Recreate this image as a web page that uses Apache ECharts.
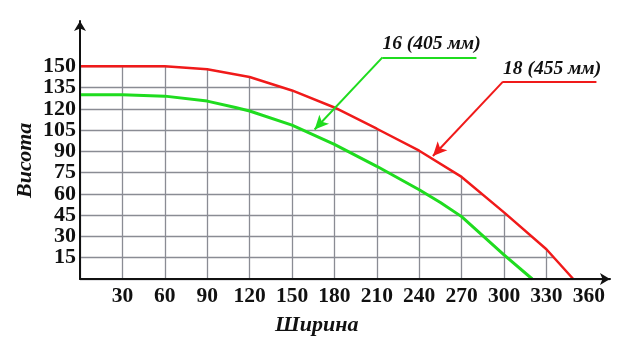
<!DOCTYPE html>
<html>
<head>
<meta charset="utf-8">
<script src="https://cdn.jsdelivr.net/npm/echarts@6/dist/echarts.min.js"></script>
<style>
  html, body { margin: 0; padding: 0; background: #fff; }
  #chart { width: 640px; height: 353px; }
</style>
</head>
<body>
<div id="chart"></div>
<script>
  // дані кривих (ширина, висота)
  var red18 = [[0, 150], [30, 150], [60, 150], [90, 148], [120, 142.5], [150, 133], [180, 121],
    [210, 106], [240, 90.5], [270, 72], [300, 47], [330, 21], [349, 0]]
  var green16 = [[0, 130], [30, 130], [60, 129], [90, 125.5], [110, 121], [120, 118.5], [150, 108.5],
    [180, 95], [210, 79.5], [240, 63], [255, 54], [270, 44], [300, 17], [320, 0]]
  var xTicks = [30, 60, 90, 120, 150, 180, 210, 240, 270, 300, 330, 360]
  var yTicks = [15, 30, 45, 60, 75, 90, 105, 120, 135, 150]
  // підписи-стрілки: [вістря, злам, кінець полиці]
  var note16 = { text: '16 (405 мм)', tip: [166, 105.5], elbow: [214, 156.3], end: [280.5, 156.3] }
  var note18 = { text: '18 (455 мм)', tip: [249.7, 86.8], elbow: [299.3, 139.2], end: [365.4, 139.2] }

  var xMax = 375
  var yMax = 182
  var serif = 'Liberation Serif'

  var myChart = echarts.init(document.getElementById('chart'))

  function noteLine(n, color) {
    return {
      silent: true,
      symbolSize: [10, 14],
      lineStyle: { color: color, width: 2, type: 'solid' },
      data: [
        [{ coord: n.elbow, symbol: 'none' }, { coord: n.tip, symbol: 'arrow', label: { show: false } }],
        [{ coord: n.elbow, symbol: 'none' }, {
          coord: n.end, symbol: 'none',
          label: {
            show: true,
            position: 'insideStartTop',
            distance: [0, 3],
            formatter: n.text,
            color: '#111',
            fontFamily: serif,
            fontStyle: 'italic',
            fontWeight: 'bold',
            fontSize: 19.5
          }
        }]
      ]
    }
  }

  // маска над червоною кривою, щоб сітка була лише під нею
  var maskData = red18.concat([[xMax, 0]])

  var option = {
    animation: false,
    grid: { left: 80, right: 30, top: 21, bottom: 74 },
    xAxis: [{
      type: 'value', min: 0, max: xMax, interval: 30,
      axisLine: { show: false }, axisTick: { show: false }, axisLabel: { show: false },
      splitLine: { show: true, showMaxLine: false, lineStyle: { color: '#8a8c94', width: 1.3 } }
    }, {
      type: 'value', min: 0, max: xMax, interval: 30, position: 'bottom', z: 10,
      axisLine: { show: true, onZero: false, symbol: ['none', 'arrow'], symbolSize: [9, 10],
        lineStyle: { color: '#111', width: 2 } },
      axisTick: { show: false },
      splitLine: { show: false },
      axisLabel: {
        margin: 6,
        color: '#111', fontFamily: serif, fontWeight: 'bold', fontSize: 21.5,
        formatter: function (v) { return xTicks.indexOf(v) >= 0 ? v : '' }
      }
    }],
    yAxis: [{
      type: 'value', min: 0, max: yMax, interval: 15,
      axisLine: { show: false }, axisTick: { show: false }, axisLabel: { show: false },
      splitLine: { show: true, showMaxLine: false, lineStyle: { color: '#8a8c94', width: 1.3 } }
    }, {
      type: 'value', min: 0, max: yMax, interval: 15, position: 'left', z: 10,
      axisLine: { show: true, onZero: false, symbol: ['none', 'arrow'], symbolSize: [9, 10],
        lineStyle: { color: '#111', width: 2 } },
      axisTick: { show: false },
      splitLine: { show: false },
      axisLabel: {
        margin: 4,
        color: '#111', fontFamily: serif, fontWeight: 'bold', fontSize: 22,
        formatter: function (v) { return yTicks.indexOf(v) >= 0 ? v : '' }
      }
    }],
    graphic: [{
      type: 'text', left: 275, top: 314,
      style: { text: 'Ширина', fill: '#111', font: 'italic bold 22px "Liberation Serif"' }
    }, {
      type: 'text', x: 14, y: 198, rotation: Math.PI / 2,
      style: { text: 'Висота', fill: '#111', font: 'italic bold 22px "Liberation Serif"' }
    }],
    series: [{
      type: 'line', data: maskData, z: 1, silent: true,
      showSymbol: false, lineStyle: { width: 0 },
      areaStyle: { color: '#fff', opacity: 1, origin: 'end' }
    }, {
      name: '18 (455 мм)', type: 'line', data: red18, z: 3,
      showSymbol: false, lineStyle: { color: '#f01a1a', width: 2.5 },
      markLine: noteLine(note18, '#f01a1a')
    }, {
      name: '16 (405 мм)', type: 'line', data: green16, z: 3,
      showSymbol: false, lineStyle: { color: '#1fdc1f', width: 3 },
      markLine: noteLine(note16, '#1fdc1f')
    }]
  }

  myChart.setOption(option)
</script>
</body>
</html>
